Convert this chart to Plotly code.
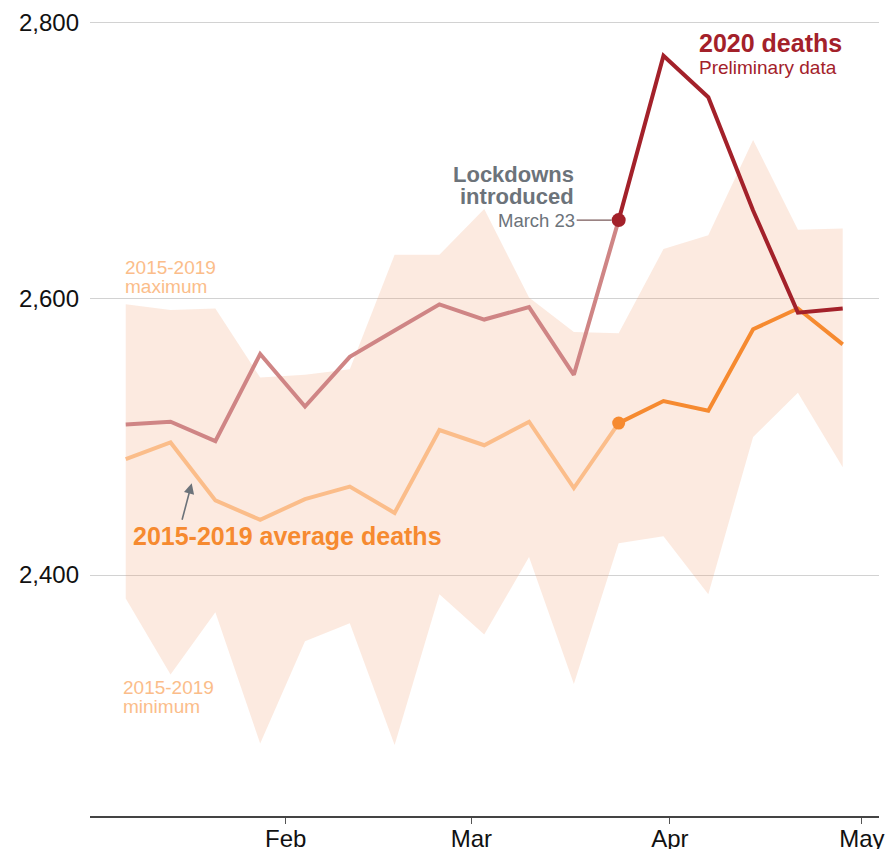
import plotly.graph_objects as go

# ---- data ----
weeks = ["2020-01-07", "2020-01-14", "2020-01-21", "2020-01-28", "2020-02-04",
         "2020-02-11", "2020-02-18", "2020-02-25", "2020-03-03", "2020-03-10",
         "2020-03-17", "2020-03-24", "2020-03-31", "2020-04-07", "2020-04-14",
         "2020-04-21", "2020-04-28"]
deaths_2020 = [2509, 2511, 2497, 2560, 2522, 2558, 2577, 2596, 2585, 2594,
               2545, 2657, 2776, 2746, 2664, 2590, 2593]
avg_2015_2019 = [2484, 2496, 2454, 2440, 2455, 2464, 2445, 2505, 2494, 2511,
                 2463, 2510, 2526, 2519, 2578, 2593, 2567]
max_2015_2019 = [2596, 2592, 2593, 2543, 2545, 2549, 2632, 2632, 2665, 2601,
                 2576, 2575, 2636, 2646, 2715, 2650, 2651]
min_2015_2019 = [2383, 2328, 2373, 2278, 2352, 2365, 2277, 2386, 2357, 2413,
                 2321, 2423, 2428, 2386, 2500, 2532, 2478]
lockdown_idx = 11  # week containing March 23
month_ticks = ["2020-02-01", "2020-03-01", "2020-04-01", "2020-05-01"]
month_labels = ["Feb", "Mar", "Apr", "May"]
y_ticks = [2400, 2600, 2800]

# ---- styles ----
FONT = "Liberation Sans, Arial, Helvetica, sans-serif"
DARK_RED = "#a3212a"
PINK = "#cf8585"
ORANGE = "#f68a30"
LIGHT_ORANGE = "#fbbd8a"
BAND = "rgba(240,150,100,0.2)"
GRAY_TXT = "#6c737a"

fig = go.Figure()

# band min/max
fig.add_trace(go.Scatter(x=weeks, y=min_2015_2019, mode="lines",
                         line=dict(width=0), hoverinfo="skip", showlegend=False))
fig.add_trace(go.Scatter(x=weeks, y=max_2015_2019, mode="lines", fill="tonexty",
                         fillcolor=BAND, line=dict(width=0), hoverinfo="skip",
                         showlegend=False))

k = lockdown_idx
# average: before and after lockdown
fig.add_trace(go.Scatter(x=weeks[:k + 1], y=avg_2015_2019[:k + 1], mode="lines",
                         line=dict(color=LIGHT_ORANGE, width=4), showlegend=False))
fig.add_trace(go.Scatter(x=weeks[k:], y=avg_2015_2019[k:], mode="lines",
                         line=dict(color=ORANGE, width=4), showlegend=False))
fig.add_trace(go.Scatter(x=[weeks[k]], y=[avg_2015_2019[k]], mode="markers",
                         marker=dict(color=ORANGE, size=13), showlegend=False))

# 2020 deaths
fig.add_trace(go.Scatter(x=weeks[:k + 1], y=deaths_2020[:k + 1], mode="lines",
                         line=dict(color=PINK, width=4), showlegend=False))
fig.add_trace(go.Scatter(x=weeks[k:], y=deaths_2020[k:], mode="lines",
                         line=dict(color=DARK_RED, width=4), showlegend=False))
fig.add_trace(go.Scatter(x=[weeks[k]], y=[deaths_2020[k]], mode="markers",
                         marker=dict(color=DARK_RED, size=14), showlegend=False))

ann = []


def txt(x, y, text, size, color, bold=False, xanchor="left"):
    ann.append(dict(xref="paper", yref="paper", x=x, y=y, text=f"<b>{text}</b>" if bold else text,
                    showarrow=False, xanchor=xanchor, yanchor="middle",
                    font=dict(family=FONT, size=size, color=color)))


txt(0.7693, 0.9473, "2020 deaths", 25, DARK_RED, bold=True)
txt(0.7693, 0.9170, "Preliminary data", 19, DARK_RED)
txt(0.616, 0.7859, "Lockdowns", 22, GRAY_TXT, bold=True, xanchor="right")
txt(0.616, 0.7590, "introduced", 22, GRAY_TXT, bold=True, xanchor="right")
txt(0.0418, 0.6716, "2015-2019", 19, LIGHT_ORANGE)
txt(0.0418, 0.6483, "maximum", 19, LIGHT_ORANGE)
txt(0.0393, 0.1572, "2015-2019", 19, LIGHT_ORANGE)
txt(0.0393, 0.1339, "minimum", 19, LIGHT_ORANGE)
txt(0.052, 0.3428, "2015-2019 average deaths", 25, ORANGE, bold=True)

# March 23 leader line
ann.append(dict(x=weeks[k], y=deaths_2020[k], xref="x", yref="y", text="March 23",
                showarrow=True, arrowhead=0, arrowwidth=1.2, arrowcolor="#7a5a5a",
                ax=-42, ay=0, xanchor="right", yanchor="middle", standoff=7,
                font=dict(family=FONT, size=18.5, color=GRAY_TXT)))
# arrow pointing to average line
ann.append(dict(xref="paper", yref="paper", x=0.1289, y=0.4077, text="",
                showarrow=True, arrowhead=2, arrowsize=1.3, arrowwidth=1.6,
                arrowcolor=GRAY_TXT, ax=-10, ay=38))

fig.update_layout(
    width=888, height=849,
    margin=dict(l=90, r=9, t=0, b=33, autoexpand=False),
    paper_bgcolor="white", plot_bgcolor="white",
    font=dict(family=FONT, size=24, color="#111"),
    annotations=ann,
    hovermode=False,
    showlegend=False,
)
fig.update_xaxes(type="date", range=["2020-01-01 10:00", "2020-05-03 16:00"],
                 tickvals=month_ticks, ticktext=month_labels, automargin=False,
                 showgrid=False, zeroline=False, showline=True,
                 linecolor="#444", linewidth=1.5, ticks="outside", ticklen=6,
                 tickcolor="#555", tickwidth=1, ticklabelstandoff=-6,
                 tickfont=dict(family=FONT, size=24, color="#111"))
fig.update_yaxes(range=[2225.5, 2816.4], tickvals=y_ticks, tickformat=",",
                 automargin=False,
                 showgrid=True, gridcolor="#d2d2d2", gridwidth=1,
                 zeroline=False, showline=False, ticks="", ticklabelstandoff=10,
                 tickfont=dict(family=FONT, size=24, color="#111"))

fig.write_html("out.html", config={"displayModeBar": False},
               post_script="document.body.style.margin='0';document.body.style.overflow='hidden';")
